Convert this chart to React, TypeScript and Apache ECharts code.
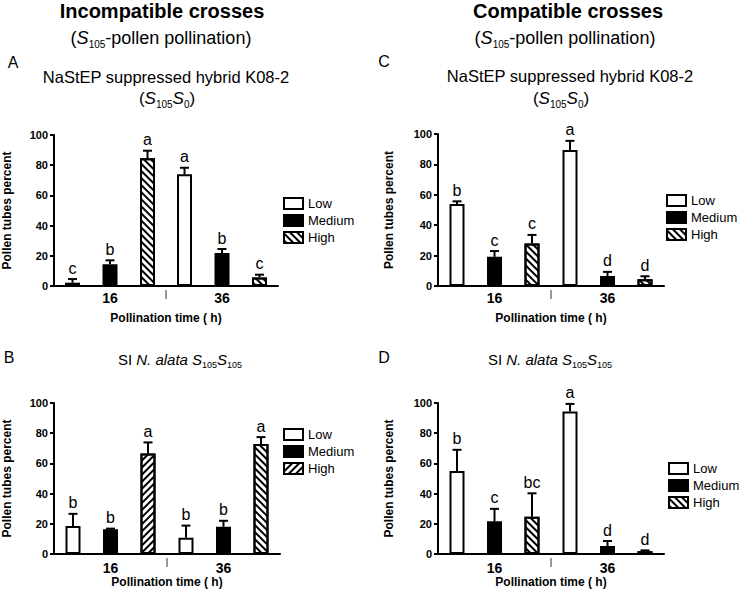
import React, { useEffect, useRef } from "react";
import * as echarts from "echarts";

const FONT = '"Liberation Sans", Arial, Helvetica, sans-serif';

const categories = ["16", "36"];
const levelNames = ["Low", "Medium", "High"];

// Panel A: incompatible, NaStEP suppressed hybrid
const aLow = [2.2, 74.0];
const aLowErr = [2.4, 4.3];
const aLowLetters = ["c", "a"];
const aMed = [14.4, 21.9];
const aMedErr = [2.6, 2.6];
const aMedLetters = ["b", "b"];
const aHigh = [84.6, 5.7];
const aHighErr = [5.0, 1.8];
const aHighLetters = ["a", "c"];

// Panel B: incompatible, SI N. alata
const bLow = [18.6, 10.8];
const bLowErr = [8.0, 8.0];
const bLowLetters = ["b", "b"];
const bMed = [16.4, 18.0];
const bMedErr = [0.4, 4.0];
const bMedLetters = ["b", "b"];
const bHigh = [66.6, 72.8];
const bHighErr = [7.3, 4.6];
const bHighLetters = ["a", "a"];

// Panel C: compatible, NaStEP suppressed hybrid
const cLow = [54.0, 89.5];
const cLowErr = [1.7, 6.0];
const cLowLetters = ["b", "a"];
const cMed = [19.2, 6.6];
const cMedErr = [3.8, 2.7];
const cMedLetters = ["c", "d"];
const cHigh = [28.0, 4.4];
const cHighErr = [5.6, 2.0];
const cHighLetters = ["c", "d"];

// Panel D: compatible, SI N. alata
const dLow = [55.0, 94.4];
const dLowErr = [14.0, 5.0];
const dLowLetters = ["b", "a"];
const dMed = [21.7, 5.3];
const dMedErr = [8.2, 3.3];
const dMedLetters = ["c", "d"];
const dHigh = [24.7, 1.8];
const dHighErr = [15.5, 0.6];
const dHighLetters = ["bc", "d"];

const BAR_W = 15;
const BAR_GAP = 1.5;

const decalBack = {
  symbol: "rect",
  symbolSize: 1,
  color: "#000",
  dashArrayX: [1, 0],
  dashArrayY: [2, 3],
  rotation: Math.PI / 4,
};
const decalFwd = { ...decalBack, rotation: -Math.PI / 4 };

type Panel = {
  key: string;
  grid: { left: number; top: number; width: number; height: number };
  legend: { left: number; top: number };
  values: number[][];
  errs: number[][];
  letters: string[][];
  highSlashFirst?: boolean;
  yNameGap: number;
  xLabelMargin: number;
  xNameGap: number;
};

const panels: Panel[] = [
  {
    key: "A",
    grid: { left: 54, top: 135, width: 224, height: 151 },
    legend: { left: 283, top: 197 },
    values: [aLow, aMed, aHigh],
    errs: [aLowErr, aMedErr, aHighErr],
    letters: [aLowLetters, aMedLetters, aHighLetters],
    yNameGap: 41,
    xLabelMargin: 5,
    xNameGap: 26,
  },
  {
    key: "C",
    grid: { left: 438, top: 134, width: 226, height: 152 },
    legend: { left: 666, top: 194 },
    values: [cLow, cMed, cHigh],
    errs: [cLowErr, cMedErr, cHighErr],
    letters: [cLowLetters, cMedLetters, cHighLetters],
    yNameGap: 43,
    xLabelMargin: 5,
    xNameGap: 26,
  },
  {
    key: "B",
    grid: { left: 54, top: 403, width: 226, height: 151 },
    legend: { left: 283, top: 428 },
    values: [bLow, bMed, bHigh],
    errs: [bLowErr, bMedErr, bHighErr],
    letters: [bLowLetters, bMedLetters, bHighLetters],
    highSlashFirst: true,
    yNameGap: 41,
    xLabelMargin: 7,
    xNameGap: 22,
  },
  {
    key: "D",
    grid: { left: 438, top: 403, width: 226, height: 151 },
    legend: { left: 668, top: 462 },
    values: [dLow, dMed, dHigh],
    errs: [dLowErr, dMedErr, dHighErr],
    letters: [dLowLetters, dMedLetters, dHighLetters],
    yNameGap: 43,
    xLabelMargin: 7,
    xNameGap: 22,
  },
];

function richTitle(text: string, left: number, top: number, fontSize: number, subSize: number) {
  return {
    text,
    left,
    top,
    padding: 0,
    textAlign: "center",
    textStyle: {
      fontSize,
      lineHeight: fontSize + 4,
      fontWeight: "normal",
      fontFamily: FONT,
      color: "#000",
      rich: {
        i: { fontStyle: "italic", fontFamily: FONT, color: "#000", verticalAlign: "middle", fontSize },
        s: { fontSize: subSize, lineHeight: subSize + 1, fontFamily: FONT, color: "#000", verticalAlign: "bottom" },
      },
    },
  };
}

function plainTitle(text: string, left: number, top: number, fontSize: number, bold = false) {
  return {
    text,
    left,
    top,
    padding: 0,
    textAlign: "center",
    textStyle: { fontSize, fontWeight: bold ? "bold" : "normal", fontFamily: FONT, color: "#000" },
  };
}

function buildOption() {
  const grids: any[] = [];
  const xAxes: any[] = [];
  const yAxes: any[] = [];
  const series: any[] = [];
  const legends: any[] = [];

  panels.forEach((p, g) => {
    grids.push({ ...p.grid, containLabel: false });
    xAxes.push({
      type: "category",
      gridIndex: g,
      data: categories,
      axisTick: { show: false },
      axisLine: { lineStyle: { color: "#000", width: 2 } },
      axisLabel: { color: "#000", fontWeight: "bold", fontSize: 14, fontFamily: FONT, margin: p.xLabelMargin },
      name: "Pollination time ( h)",
      nameLocation: "middle",
      nameGap: p.xNameGap,
      nameTextStyle: { color: "#000", fontWeight: "bold", fontSize: 12, fontFamily: FONT },
    });
    yAxes.push({
      type: "value",
      gridIndex: g,
      min: 0,
      max: 100,
      interval: 20,
      splitLine: { show: false },
      axisLine: { show: true, lineStyle: { color: "#000", width: 2 } },
      axisTick: { show: true, length: 4, lineStyle: { color: "#000", width: 2 } },
      axisLabel: { color: "#000", fontWeight: "bold", fontSize: 11, fontFamily: FONT, margin: 6 },
      name: "Pollen tubes percent",
      nameLocation: "middle",
      nameGap: p.yNameGap,
      nameTextStyle: { color: "#000", fontWeight: "bold", fontSize: 12, fontFamily: FONT },
    });

    levelNames.forEach((lvl, idx) => {
      const name = `${lvl}_${p.key}`;
      const itemStyle: any = { borderColor: "#000", borderWidth: 2, color: idx === 1 ? "#000" : "#fff" };
      let data: any[] = p.values[idx];
      if (idx === 2) {
        if (p.highSlashFirst) {
          itemStyle.decal = decalFwd;
          data = p.values[idx].map((v, j) => (j === 1 ? { value: v, itemStyle: { decal: decalBack } } : v));
        } else {
          itemStyle.decal = decalBack;
        }
      }
      series.push({
        type: "bar",
        name,
        xAxisIndex: g,
        yAxisIndex: g,
        data,
        barWidth: BAR_W,
        barGap: `${BAR_GAP * 100}%`,
        itemStyle,
        emphasis: { disabled: true },
      });
      const letters = p.letters[idx];
      series.push({
        type: "custom",
        name: `err_${name}`,
        xAxisIndex: g,
        yAxisIndex: g,
        z: 5,
        data: p.values[idx].map((v, j) => [j, v, p.errs[idx][j]]),
        renderItem: (params: any, api: any) => {
          const j = api.value(0);
          const v = api.value(1);
          const e = api.value(2);
          const base = api.coord([j, v]);
          const top = api.coord([j, v + e]);
          const x = base[0] + (idx - 1) * BAR_W * (1 + BAR_GAP);
          return {
            type: "group",
            children: [
              { type: "line", shape: { x1: x, y1: base[1], x2: x, y2: top[1] }, style: { stroke: "#000", lineWidth: 2 } },
              { type: "line", shape: { x1: x - 4.5, y1: top[1], x2: x + 4.5, y2: top[1] }, style: { stroke: "#000", lineWidth: 2 } },
              {
                type: "text",
                x,
                y: top[1] - 3,
                style: {
                  text: letters[params.dataIndex],
                  fill: "#000",
                  font: `16px ${FONT}`,
                  textAlign: "center",
                  textVerticalAlign: "bottom",
                },
              },
            ],
          };
        },
      });
    });

    // divider between the two time groups
    series.push({
      type: "custom",
      name: `div_${p.key}`,
      xAxisIndex: g,
      yAxisIndex: g,
      data: [[0, 0]],
      renderItem: (params: any, api: any) => {
        const p0 = api.coord([0, 0]);
        const p1 = api.coord([1, 0]);
        const x = (p0[0] + p1[0]) / 2;
        return {
          type: "line",
          shape: { x1: x, y1: p0[1] + 4, x2: x, y2: p0[1] + 13 },
          style: { stroke: "#333", lineWidth: 1 },
        };
      },
    });

    legends.push({
      orient: "vertical",
      left: p.legend.left,
      top: p.legend.top,
      itemWidth: 19,
      itemHeight: 11,
      itemGap: 4,
      padding: 0,
      icon: "rect",
      selectedMode: false,
      data: levelNames.map((l) => `${l}_${p.key}`),
      formatter: (n: string) => n.split("_")[0],
      textStyle: { fontSize: 13, color: "#000", fontFamily: FONT },
    });
  });

  const titles = [
    plainTitle("Incompatible crosses", 162, 1, 20, true),
    richTitle("({i|S}{s|105}-pollen pollination)", 161, 27, 18, 10),
    plainTitle("Compatible crosses", 568, 1, 20, true),
    richTitle("({i|S}{s|105}-pollen pollination)", 565, 27, 18, 10),
    plainTitle("A", 13, 54, 16),
    plainTitle("NaStEP suppressed hybrid K08-2", 166, 68, 16.5),
    richTitle("({i|S}{s|105}{i|S}{s|0})", 167, 88, 17, 10),
    plainTitle("C", 384, 53, 16),
    plainTitle("NaStEP suppressed hybrid K08-2", 570, 67, 16.5),
    richTitle("({i|S}{s|105}{i|S}{s|0})", 561, 88, 17, 10),
    plainTitle("B", 9, 349, 16),
    richTitle("SI {i|N. alata S}{s|105}{i|S}{s|105}", 180, 350, 15, 9),
    plainTitle("D", 384, 349, 16),
    richTitle("SI {i|N. alata S}{s|105}{i|S}{s|105}", 550, 350, 15, 9),
  ];

  return {
    animation: false,
    backgroundColor: "#fff",
    textStyle: { fontFamily: FONT },
    title: titles,
    legend: legends,
    grid: grids,
    xAxis: xAxes,
    yAxis: yAxes,
    series,
  };
}

export default function App() {
  const ref = useRef<HTMLDivElement>(null);
  useEffect(() => {
    if (!ref.current) return;
    const chart = echarts.init(ref.current, undefined, { renderer: "svg" });
    chart.setOption(buildOption() as any);
    return () => chart.dispose();
  }, []);
  return (
    <div
      ref={ref}
      style={{ position: "absolute", left: 0, top: 0, width: 740, height: 590, background: "#fff" }}
    />
  );
}
